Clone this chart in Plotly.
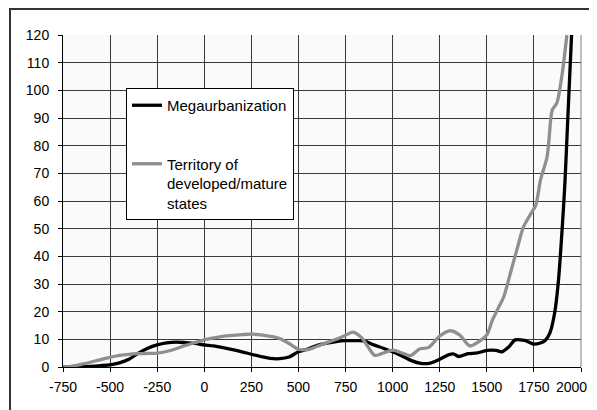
import plotly.graph_objects as go

# Megaurbanization (black)
mega_x = [-750, -650, -550, -500, -450, -400, -350, -300, -250, -200, -150, -100, -50, 0,
          50, 100, 150, 200, 250, 300, 350, 400, 450, 500, 550, 600, 650, 700, 750, 800,
          850, 900, 950, 1000, 1050, 1100, 1150, 1200, 1250, 1300, 1325, 1350, 1400, 1450,
          1500, 1550, 1580, 1620, 1650, 1700, 1750, 1780, 1810, 1835, 1860, 1880, 1900,
          1915, 1930, 1950]
mega_y = [0, 0.1, 0.5, 0.8, 1.5, 2.8, 5, 6.8, 8, 8.7, 9, 8.8, 8.5, 8,
          7.6, 7, 6.3, 5.5, 4.6, 3.8, 3.1, 3, 3.6, 5.5, 6.5, 7.8, 8.6, 9.2, 9.5, 9.5,
          9.4, 8, 6.8, 5.5, 4, 2.3, 1.3, 1.4, 2.8, 4.5, 4.7, 3.8, 4.8, 5.1,
          6, 6, 5.5, 7.5, 9.8, 9.6, 8.3, 8.6, 9.6, 12.3, 19.5, 31, 50,
          67, 90, 120]

# Territory of developed/mature states (gray)
terr_x = [-750, -700, -650, -600, -550, -500, -450, -400, -350, -300, -250, -200, -150,
          -100, -50, 0, 50, 100, 150, 200, 250, 300, 350, 400, 450, 500, 550, 600, 650,
          700, 750, 790, 835, 870, 905, 945, 1000, 1055, 1095, 1145, 1190, 1250, 1305,
          1355, 1410, 1465, 1500, 1530, 1560, 1590, 1625, 1660, 1695, 1730, 1760, 1785,
          1820, 1840, 1848, 1872, 1900, 1925]
terr_y = [0, 0.3, 1, 1.8, 2.7, 3.5, 4.2, 4.6, 4.8, 4.9, 5, 5.6, 6.6,
          7.8, 8.8, 9.8, 10.5, 11.1, 11.4, 11.7, 11.9, 11.6, 11.1, 10.3, 8.5, 6.4, 6.3, 7.5, 8.8,
          10, 11.5, 12.6, 10.6, 7.2, 4.2, 4.9, 6.1, 4.9, 4.1, 6.6, 7, 11.2, 13.1,
          11.6, 7.6, 9.5, 11.6, 17, 21.2, 25.4, 33.9, 42.5, 50.7, 55, 58.5, 67.6,
          76, 90, 93, 95.5, 106, 120]

x_ticks = [-750, -500, -250, 0, 250, 500, 750, 1000, 1250, 1500, 1750, 2000]
x_ticktext = ["-750", "-500", "-250", "0", "250", "500", "750", "1000", "1250",
              "1500", "1750", "2000"]
y_ticks = [0, 10, 20, 30, 40, 50, 60, 70, 80, 90, 100, 110, 120]

FONT = "Liberation Sans, Arial, sans-serif"

# The page body has an 8px default margin: the figure is drawn 8px right/down,
# and content past page x≈589 is not visible.
OFF = 8
W, H = 597 - OFF, 410 - OFF
FL, FT = 11, 10                      # outer chart frame (page px)
ML, MT = FL - OFF, FT - OFF
PW, PH = W - ML, H - MT


def dom_x(page_px):
    return (page_px - OFF - ML) / PW


def dom_y(page_px):
    return (H - (page_px - OFF)) / PH


fig = go.Figure()
fig.add_trace(go.Scatter(
    x=mega_x, y=mega_y, mode="lines", name="Megaurbanization",
    line=dict(color="#000000", width=3.3, shape="spline", smoothing=0.8),
    legendgroup="a",
))
fig.add_trace(go.Scatter(
    x=terr_x, y=terr_y, mode="lines",
    name="Territory of<br>developed/mature<br>states",
    line=dict(color="#8f8f8f", width=3.3, shape="spline", smoothing=0.8),
    legendgroup="b",
))
# empty trace on the frame axes so that they are drawn
fig.add_trace(go.Scatter(x=[None], y=[None], xaxis="x2", yaxis="y2",
                         showlegend=False, hoverinfo="skip"))

# last tick label is drawn as an annotation, right-aligned so it stays visible
shown_text = x_ticktext[:-1] + [""]
last_label = dict(
    text=x_ticktext[-1], x=x_ticks[-1], xref="x", y=0, yref="y",
    xanchor="right", yanchor="top", xshift=OFF, yshift=-10, showarrow=False,
    font=dict(family=FONT, size=14, color="#000000"),
)

fig.update_layout(
    width=W, height=H,
    margin=dict(l=ML, r=0, t=MT, b=0, pad=0, autoexpand=False),
    paper_bgcolor="white",
    plot_bgcolor="rgba(0,0,0,0)",
    font=dict(family=FONT, size=14, color="#000000"),
    showlegend=True,
    legend=dict(
        x=dom_x(126), y=dom_y(88), xanchor="left", yanchor="top",
        bgcolor="white", bordercolor="#000000", borderwidth=1,
        font=dict(family=FONT, size=15, color="#000000"),
        traceorder="grouped", tracegroupgap=36, valign="top",
        itemwidth=30,
    ),
    xaxis=dict(
        domain=[dom_x(63), dom_x(581)], anchor="y",
        range=[-750, 2000], tickvals=x_ticks, ticktext=shown_text,
        showgrid=True, gridcolor="#3a3a3a", gridwidth=1,
        showline=True, linecolor="#000000", linewidth=1,
        ticks="outside", ticklen=4, tickcolor="#000000",
        zeroline=False, ticklabelstandoff=3, automargin=False,
    ),
    yaxis=dict(
        domain=[dom_y(367), dom_y(35)], anchor="x",
        range=[0, 120], tickvals=y_ticks, ticktext=[str(v) for v in y_ticks],
        showgrid=True, gridcolor="#3a3a3a", gridwidth=1,
        showline=True, linecolor="#000000", linewidth=1,
        ticks="outside", ticklen=4, tickcolor="#000000",
        zeroline=False, ticklabelstandoff=6, automargin=False,
    ),
    xaxis2=dict(
        domain=[0, 1], anchor="y2", side="top", range=[0, 1],
        showline=True, linecolor="#333333", linewidth=1.6,
        showgrid=False, zeroline=False, showticklabels=False, ticks="",
        automargin=False, fixedrange=True,
    ),
    yaxis2=dict(
        domain=[0, 1], anchor="x2", side="left", range=[0, 1],
        showline=True, linecolor="#333333", linewidth=1.6,
        showgrid=False, zeroline=False, showticklabels=False, ticks="",
        automargin=False, fixedrange=True,
    ),
    annotations=[last_label],
    shapes=[
        dict(type="rect", xref="x domain", yref="y domain", x0=0, x1=1, y0=0, y1=1,
             fillcolor="#fafafa", line=dict(width=0), layer="below"),
        dict(type="line", xref="x domain", yref="y domain", x0=1, x1=1, y0=0, y1=1,
             line=dict(color="#808080", width=1)),
    ],
)

fig.write_html("out.html")
